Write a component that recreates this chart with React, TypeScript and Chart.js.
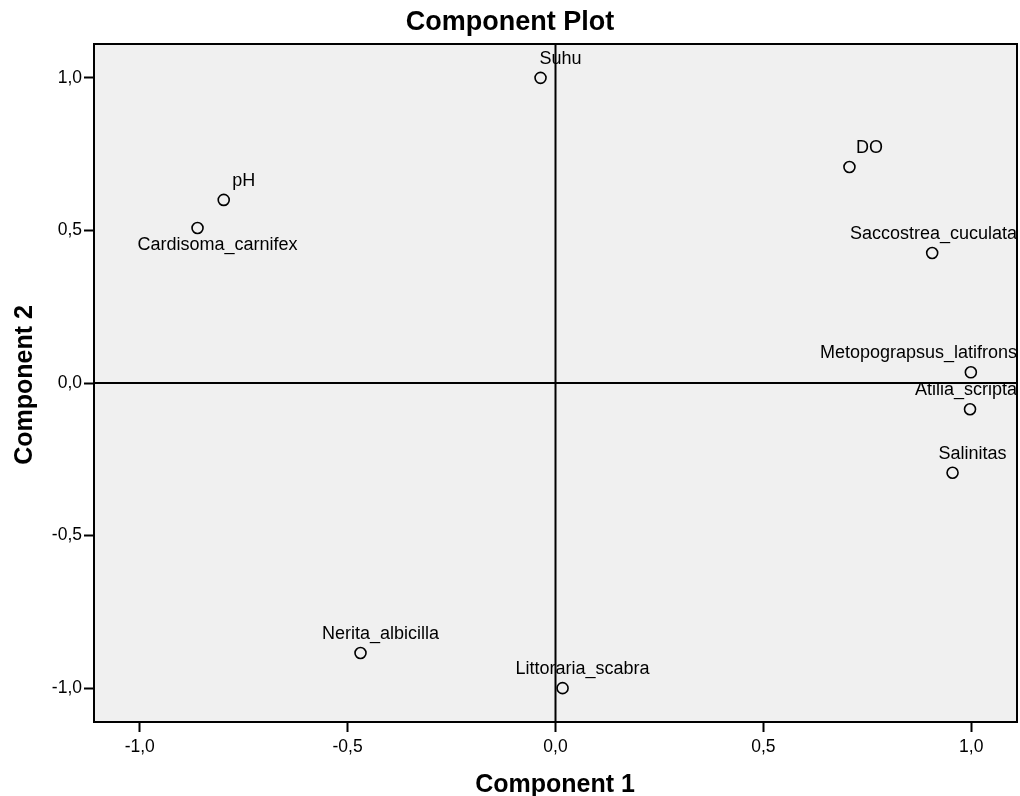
import React, { useEffect, useRef } from 'react';
import { Chart, registerables } from 'chart.js';

Chart.register(...registerables);

const variableNames = [
  'Suhu',
  'DO',
  'pH',
  'Cardisoma_carnifex',
  'Saccostrea_cuculata',
  'Metopograpsus_latifrons',
  'Atilia_scripta',
  'Salinitas',
  'Nerita_albicilla',
  'Littoraria_scabra',
];
const component1 = [-0.036, 0.707, -0.798, -0.861, 0.906, 0.999, 0.997, 0.955, -0.469, 0.017];
const component2 = [1.0, 0.708, 0.6, 0.508, 0.426, 0.035, -0.086, -0.294, -0.885, -1.0];
const tickValues = [-1, -0.5, 0, 0.5, 1];
const chartTitle = 'Component Plot';
const xAxisTitle = 'Component 1';
const yAxisTitle = 'Component 2';
const labelsBelow = ['Cardisoma_carnifex'];

const FONT = '"Liberation Sans", Arial, Helvetica, sans-serif';
const fmt = (v: number) => v.toFixed(1).replace('.', ',');

const plotPlugin = {
  id: 'spssPlot',
  beforeDatasetsDraw(chart: any) {
    const { ctx, chartArea: a, scales } = chart;
    ctx.save();
    ctx.fillStyle = '#f0f0f0';
    ctx.fillRect(a.left, a.top, a.right - a.left, a.bottom - a.top);
    ctx.strokeStyle = '#000';
    ctx.lineWidth = 2;
    const x0 = scales.x.getPixelForValue(0);
    const y0 = scales.y.getPixelForValue(0);
    ctx.beginPath();
    ctx.moveTo(x0, a.top);
    ctx.lineTo(x0, a.bottom);
    ctx.moveTo(a.left, y0);
    ctx.lineTo(a.right, y0);
    ctx.stroke();
    ctx.restore();
  },
  afterDatasetsDraw(chart: any) {
    const { ctx, chartArea: a } = chart;
    const meta = chart.getDatasetMeta(0);
    ctx.save();
    ctx.font = `18px ${FONT}`;
    ctx.fillStyle = '#000';
    ctx.textAlign = 'center';
    ctx.textBaseline = 'middle';
    meta.data.forEach((pt: any, i: number) => {
      const name = variableNames[i];
      const w = ctx.measureText(name).width;
      let cx = pt.x + 20;
      if (cx + w / 2 > a.right) cx = a.right - w / 2;
      if (cx - w / 2 < a.left) cx = a.left + w / 2;
      const cy = labelsBelow.includes(name) ? pt.y + 17 : pt.y - 19;
      ctx.fillText(name, cx, cy);
    });
    ctx.restore();
  },
  afterDraw(chart: any) {
    const { ctx, chartArea: a, width } = chart;
    ctx.save();
    ctx.strokeStyle = '#000';
    ctx.lineWidth = 2;
    ctx.strokeRect(a.left, a.top, a.right - a.left, a.bottom - a.top);
    ctx.fillStyle = '#000';
    ctx.textAlign = 'center';
    ctx.textBaseline = 'middle';
    ctx.font = `bold 27px ${FONT}`;
    ctx.fillText(chartTitle, width / 2, 23);
    ctx.font = `bold 25px ${FONT}`;
    ctx.fillText(xAxisTitle, 555, 785);
    ctx.translate(25, 385);
    ctx.rotate(-Math.PI / 2);
    ctx.fillText(yAxisTitle, 0, 0);
    ctx.restore();
  },
};

export default function App() {
  const canvasRef = useRef<HTMLCanvasElement | null>(null);

  useEffect(() => {
    document.body.style.margin = '0';
    document.body.style.overflow = 'hidden';
    const canvas = canvasRef.current;
    if (!canvas) return;
    const points = component1.map((x, i) => ({ x, y: component2[i] }));
    const chart = new Chart(canvas, {
      type: 'scatter',
      data: {
        labels: variableNames,
        datasets: [
          {
            data: points,
            pointStyle: 'circle',
            pointRadius: 5.5,
            pointHoverRadius: 5.5,
            borderWidth: 1.6,
            borderColor: '#000',
            backgroundColor: 'rgba(0,0,0,0)',
            clip: false,
          } as any,
        ],
      },
      options: {
        responsive: false,
        animation: false,
        events: [],
        layout: { autoPadding: false, padding: { top: 44, right: 3, left: 0, bottom: 0 } },
        plugins: {
          legend: { display: false },
          tooltip: { enabled: false },
          title: { display: false },
        },
        scales: {
          x: {
            type: 'linear',
            min: -1.11,
            max: 1.11,
            afterBuildTicks: (s: any) => {
              s.ticks = tickValues.map((v) => ({ value: v }));
            },
            afterFit: (s: any) => {
              s.height = 74;
              s.paddingLeft = 0;
              s.paddingRight = 0;
            },
            ticks: {
              color: '#000',
              font: { family: FONT, size: 17.5 },
              padding: 5,
              maxRotation: 0,
              callback: (v: any) => fmt(Number(v)),
            },
            grid: {
              display: true,
              drawOnChartArea: false,
              drawTicks: true,
              tickLength: 10,
              tickColor: '#000',
              tickWidth: 2,
            },
            border: { display: false },
          },
          y: {
            type: 'linear',
            min: -1.111,
            max: 1.111,
            afterBuildTicks: (s: any) => {
              s.ticks = tickValues.map((v) => ({ value: v }));
            },
            afterFit: (s: any) => {
              s.width = 94;
              s.paddingTop = 0;
              s.paddingBottom = 0;
            },
            ticks: {
              color: '#000',
              font: { family: FONT, size: 17.5 },
              padding: 2,
              callback: (v: any) => fmt(Number(v)),
            },
            grid: {
              display: true,
              drawOnChartArea: false,
              drawTicks: true,
              tickLength: 10,
              tickColor: '#000',
              tickWidth: 2,
            },
            border: { display: false },
          },
        },
      },
      plugins: [plotPlugin],
    });
    return () => chart.destroy();
  }, []);

  return (
    <div style={{ width: 1020, height: 796, background: '#fff' }}>
      <canvas ref={canvasRef} width={1020} height={796} style={{ display: 'block' }} />
    </div>
  );
}
